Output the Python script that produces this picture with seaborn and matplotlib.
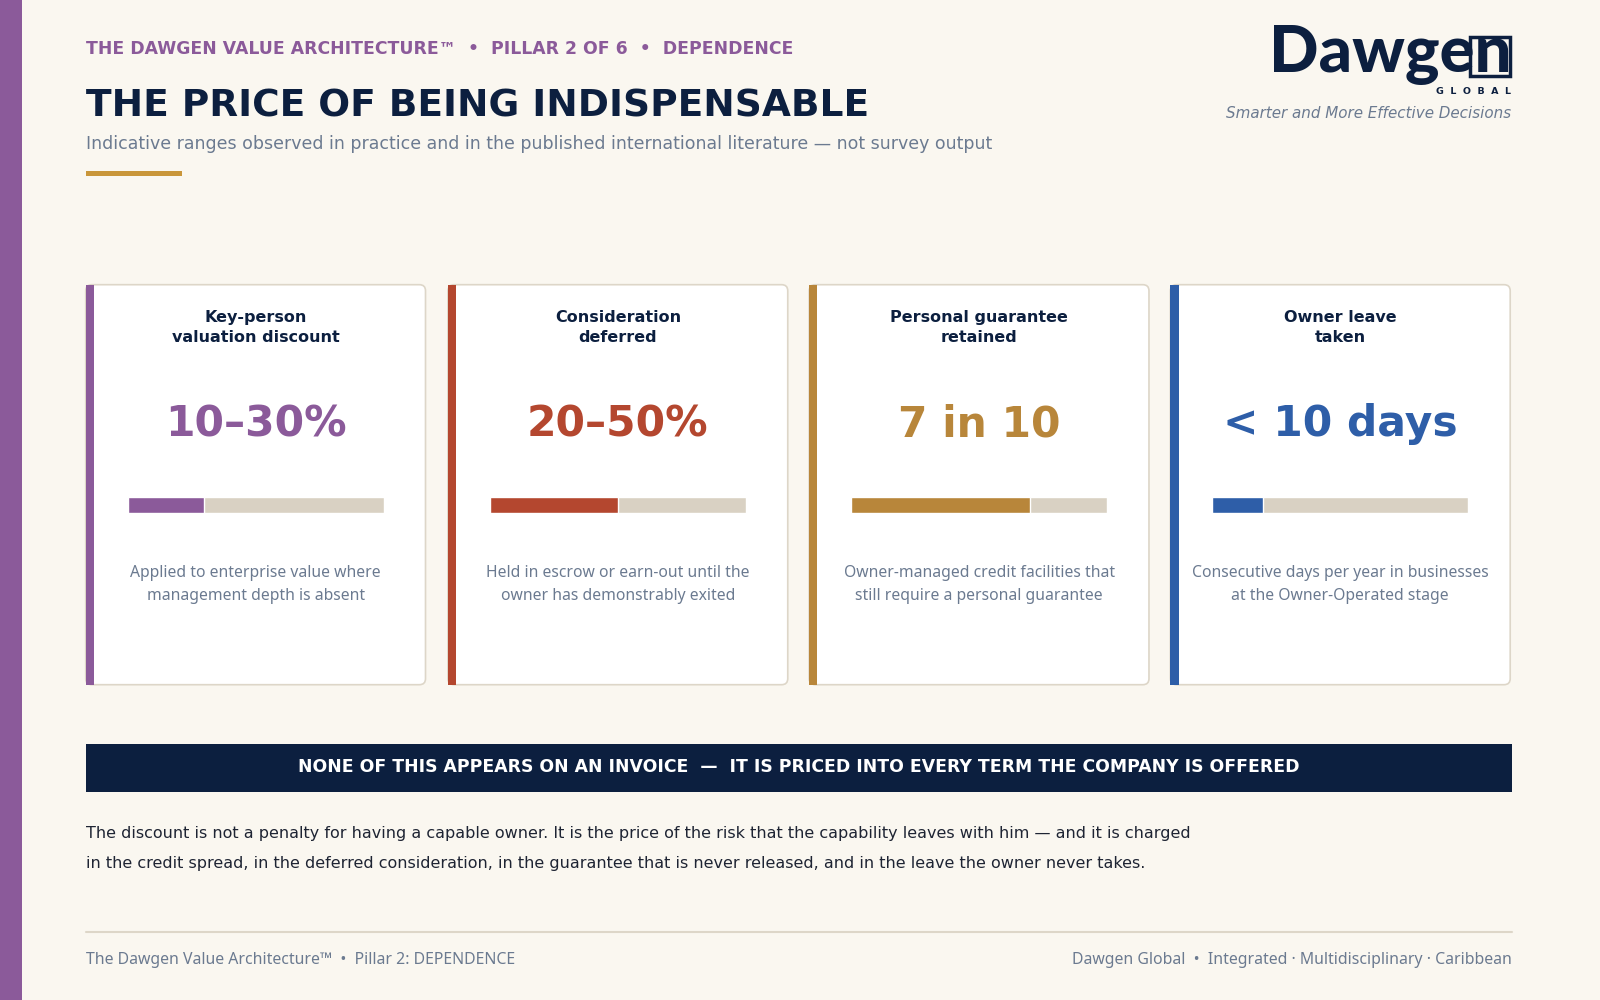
import matplotlib
matplotlib.use("Agg")
import matplotlib.pyplot as plt
import seaborn as sns
from matplotlib.patches import Rectangle, FancyBboxPatch

# ---- data ----
card_titles = ["Key-person\nvaluation discount", "Consideration\ndeferred",
               "Personal guarantee\nretained", "Owner leave\ntaken"]
card_values = ["10\u201330%", "20\u201350%", "7 in 10", "< 10 days"]
bar_fill = [0.30, 0.50, 0.70, 0.20]
card_notes = ["Applied to enterprise value where\nmanagement depth is absent",
              "Held in escrow or earn-out until the\nowner has demonstrably exited",
              "Owner-managed credit facilities that\nstill require a personal guarantee",
              "Consecutive days per year in businesses\nat the Owner-Operated stage"]
card_colors = ["#8B5A9A", "#B4472F", "#B8863A", "#2E5EA8"]

eyebrow = "THE DAWGEN VALUE ARCHITECTURE\u2122  \u2022  PILLAR 2 OF 6  \u2022  DEPENDENCE"
title = "THE PRICE OF BEING INDISPENSABLE"
subtitle = ("Indicative ranges observed in practice and in the published international "
            "literature \u2014 not survey output")
banner = ("NONE OF THIS APPEARS ON AN INVOICE  \u2014  IT IS PRICED INTO EVERY TERM "
          "THE COMPANY IS OFFERED")
paragraph = ["The discount is not a penalty for having a capable owner. It is the price of "
             "the risk that the capability leaves with him \u2014 and it is charged",
             "in the credit spread, in the deferred consideration, in the guarantee that is "
             "never released, and in the leave the owner never takes."]
footer_left = "The Dawgen Value Architecture\u2122  \u2022  Pillar 2: DEPENDENCE"
footer_right = "Dawgen Global  \u2022  Integrated \u00b7 Multidisciplinary \u00b7 Caribbean"

# ---- colours ----
BG = "#FAF7F0"
NAVY = "#0C1F3F"
GREY = "#6B7A90"
TRACK = "#D9D1C3"
BORDER = "#DDD6C8"
PURPLE = "#8B5A9A"
GOLD = "#C9963A"

sns.set_theme(style="white")
plt.rcParams["font.family"] = ["DejaVu Sans"]

W, H = 1568, 980
fig = plt.figure(figsize=(16, 10), dpi=100, facecolor=BG)
ax = fig.add_axes([0, 0, 1, 1])
ax.set_xlim(0, W)
ax.set_ylim(H, 0)
ax.axis("off")
ax.set_facecolor(BG)

# left stripe
ax.add_patch(Rectangle((0, 0), 22, H, color=PURPLE, lw=0))

# header
ax.text(84, 48, eyebrow, color=PURPLE, fontsize=12.4, fontweight="bold", va="center")
ax.text(84, 104, title, color=NAVY, fontsize=27, fontweight="bold", va="center")
ax.text(84, 141, subtitle, color=GREY, fontsize=12.5, va="center")
ax.add_patch(Rectangle((84, 168), 94, 4, color=GOLD, lw=0))

# logo
ax.text(1481, 71, "Dawgen", color=NAVY, fontsize=47, fontweight="black",
        family="Lato", ha="right", va="baseline")
ax.add_patch(Rectangle((1441, 36), 39, 38, fill=False, ec=NAVY, lw=2.5))
ax.text(1481, 90, "G  L  O  B  A  L", color=NAVY, fontsize=6.8, fontweight="bold",
        ha="right", va="center")
ax.text(1481, 111, "Smarter and More Effective Decisions", color=GREY,
        fontsize=10.9, style="italic", ha="right", va="center")

# cards
card_x = [84, 439, 793, 1147]
cw, top, bot = 333, 279, 671
for i in range(4):
    x0 = card_x[i]
    ax.add_patch(FancyBboxPatch((x0, top), cw, bot - top,
                                boxstyle="round,pad=0,rounding_size=6",
                                fc="white", ec=BORDER, lw=1.2))
    ax.add_patch(Rectangle((x0, top), 8, bot - top, color=card_colors[i], lw=0))
    cx = x0 + cw / 2
    ax.text(cx, 321, card_titles[i], color=NAVY, fontsize=11.5, fontweight="bold",
            ha="center", va="center", linespacing=1.35)
    ax.text(cx, 416, card_values[i], color=card_colors[i], fontsize=30.5,
            fontweight="bold", ha="center", va="center")
    ax.text(cx, 573, card_notes[i], color=GREY, fontsize=11.3, family="Noto Sans",
            ha="center", va="center", linespacing=1.55)

    # progress bar drawn with seaborn
    bx0, bx1, by0, by1 = x0 + 41, x0 + 292, 487, 503
    bax = fig.add_axes([bx0 / W, 1 - by1 / H, (bx1 - bx0) / W, (by1 - by0) / H])
    sns.barplot(x=[1.0], y=["v"], color=TRACK, width=1, ax=bax, saturation=1)
    sns.barplot(x=[bar_fill[i]], y=["v"], color=card_colors[i], width=1, ax=bax,
                saturation=1)
    bax.set_xlim(0, 1)
    bax.set_ylim(0.5, -0.5)
    bax.axis("off")

# banner
ax.add_patch(Rectangle((84, 729), 1398, 47, color=NAVY, lw=0))
ax.text(783, 752, banner, color="white", fontsize=12.4, fontweight="bold",
        ha="center", va="center")

# paragraph
ax.text(84, 817, paragraph[0], color="#1E2433", fontsize=11.5, va="center")
ax.text(84, 846, paragraph[1], color="#1E2433", fontsize=11.5, va="center")

# footer
ax.plot([84, 1482], [913, 913], color=BORDER, lw=1.5)
ax.text(84, 941, footer_left, color=GREY, fontsize=11.4, family="Noto Sans", va="center")
ax.text(1482, 941, footer_right, color=GREY, fontsize=11.4, family="Noto Sans",
        ha="right", va="center")

fig.savefig("out.png", dpi=100, facecolor=BG)
